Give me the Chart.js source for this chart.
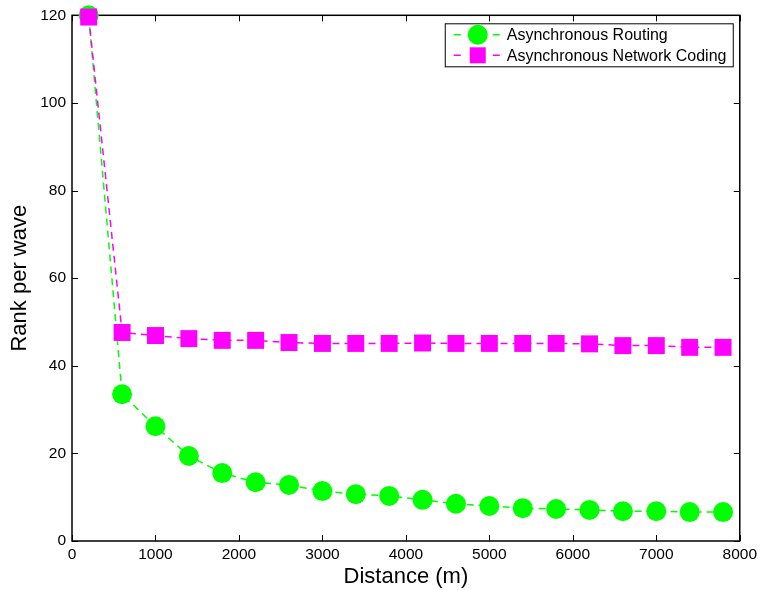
<!DOCTYPE html>
<html>
<head>
<meta charset="utf-8">
<script src="https://cdn.jsdelivr.net/npm/chart.js@4.4.1/dist/chart.umd.min.js"></script>
<style>
  body { margin: 0; background: #fff; }
  #wrap { width: 761px; height: 590px; }
</style>
</head>
<body>
<div id="wrap"><canvas id="chart" width="761" height="590"></canvas></div>
<script>
// distances (m)
const distances = [200, 600, 1000, 1400, 1800, 2200, 2600, 3000, 3400, 3800,
  4200, 4600, 5000, 5400, 5800, 6200, 6600, 7000, 7400, 7800];
// rank per wave
const routing = [120, 33.5, 26.2, 19.4, 15.5, 13.4, 12.8, 11.4, 10.7, 10.3,
  9.4, 8.5, 8.0, 7.5, 7.3, 7.1, 6.8, 6.8, 6.6, 6.6];
const coding = [119.6, 47.6, 46.9, 46.2, 45.8, 45.8, 45.3, 45.1, 45.1, 45.1,
  45.2, 45.1, 45.1, 45.1, 45.1, 45.0, 44.6, 44.6, 44.2, 44.2];
const seriesNames = ['Asynchronous Routing', 'Asynchronous Network Coding'];
const xTicks = [0, 1000, 2000, 3000, 4000, 5000, 6000, 7000, 8000];
const yTicks = [0, 20, 40, 60, 80, 100, 120];

const GREEN = '#00ff00';
const MAGENTA = '#ff00ff';
const FONT = 'Liberation Sans, Arial, sans-serif';

function toPoints(ys) {
  return distances.map((x, i) => ({ x: x, y: ys[i] }));
}

// box frame with inward ticks, MATLAB style
const framePlugin = {
  id: 'frame',
  beforeDatasetsDraw(chart) {
    const { ctx, chartArea: a, scales } = chart;
    ctx.save();
    ctx.strokeStyle = '#000';
    ctx.lineWidth = 1;
    const t = 6;
    ctx.beginPath();
    xTicks.forEach(v => {
      const px = Math.round(scales.x.getPixelForValue(v)) + 0.5;
      ctx.moveTo(px, a.bottom); ctx.lineTo(px, a.bottom - t);
      ctx.moveTo(px, a.top); ctx.lineTo(px, a.top + t);
    });
    yTicks.forEach(v => {
      const py = Math.round(scales.y.getPixelForValue(v)) + 0.5;
      ctx.moveTo(a.left, py); ctx.lineTo(a.left + t, py);
      ctx.moveTo(a.right, py); ctx.lineTo(a.right - t, py);
    });
    ctx.stroke();
    ctx.lineWidth = 1.5;
    ctx.strokeRect(a.left, a.top, a.right - a.left, a.bottom - a.top);
    ctx.restore();
  },
  afterDraw(chart) {
    // legend box in the top right of the plot
    const { ctx, chartArea: a } = chart;
    const w = 288, h = 43;
    const x0 = a.right - 295, y0 = a.top + 8;
    ctx.save();
    ctx.fillStyle = '#fff';
    ctx.fillRect(x0, y0, w, h);
    ctx.strokeStyle = '#000';
    ctx.lineWidth = 1;
    ctx.strokeRect(x0 + 0.5, y0 + 0.5, w, h);
    ctx.font = '16px ' + FONT;
    ctx.textBaseline = 'middle';
    const rows = [y0 + 11.5, y0 + 32];
    rows.forEach((ry, i) => {
      const color = i === 0 ? GREEN : MAGENTA;
      const cx = x0 + 33;
      ctx.strokeStyle = color;
      ctx.lineWidth = 1.5;
      ctx.beginPath();
      ctx.moveTo(x0 + 9, ry); ctx.lineTo(x0 + 16, ry);
      ctx.moveTo(x0 + 48, ry); ctx.lineTo(x0 + 55, ry);
      ctx.stroke();
      ctx.fillStyle = color;
      ctx.beginPath();
      if (i === 0) {
        ctx.arc(cx, ry, 10, 0, Math.PI * 2);
      } else {
        ctx.rect(cx - 8, ry - 8, 16, 16);
      }
      ctx.fill();
      ctx.fillStyle = '#000';
      ctx.fillText(seriesNames[i], x0 + 62, ry + 1);
    });
    ctx.restore();
  }
};

new Chart(document.getElementById('chart'), {
  type: 'line',
  data: {
    datasets: [
      {
        label: seriesNames[0],
        data: toPoints(routing),
        borderColor: GREEN,
        backgroundColor: GREEN,
        borderWidth: 1.5,
        borderDash: [7, 5],
        pointStyle: 'circle',
        pointRadius: 10,
        pointBorderWidth: 0,
        tension: 0,
        order: 1
      },
      {
        label: seriesNames[1],
        data: toPoints(coding),
        borderColor: MAGENTA,
        backgroundColor: MAGENTA,
        borderWidth: 1.5,
        borderDash: [7, 5],
        pointStyle: 'rect',
        pointRadius: 12,
        pointBorderWidth: 0,
        tension: 0,
        order: 0
      }
    ]
  },
  options: {
    responsive: false,
    animation: false,
    clip: false,
    layout: { padding: { left: 0, right: 17, top: 14, bottom: 0 } },
    plugins: {
      legend: { display: false },
      tooltip: { enabled: false }
    },
    scales: {
      x: {
        type: 'linear',
        min: 0,
        max: 8000,
        afterBuildTicks: s => { s.ticks = xTicks.map(v => ({ value: v })); },
        grid: { display: false, drawTicks: false },
        border: { display: false },
        ticks: {
          color: '#000', font: { family: FONT, size: 15.5 }, padding: 4, maxRotation: 0,
          callback: v => String(v)
        },
        title: { display: true, text: 'Distance (m)', color: '#000', font: { family: FONT, size: 22 }, padding: { top: 0, bottom: 0 } },
        afterFit: s => { s.height = 49; }
      },
      y: {
        type: 'linear',
        min: 0,
        max: 120,
        afterBuildTicks: s => { s.ticks = yTicks.map(v => ({ value: v })); },
        grid: { display: false, drawTicks: false },
        border: { display: false },
        ticks: { color: '#000', font: { family: FONT, size: 15.5 }, padding: 6, callback: v => String(v) },
        title: { display: true, text: 'Rank per wave', color: '#000', font: { family: FONT, size: 22 }, padding: { top: 7, bottom: 0 } },
        afterFit: s => { s.width = 72; }
      }
    }
  },
  plugins: [framePlugin]
});
</script>
</body>
</html>
